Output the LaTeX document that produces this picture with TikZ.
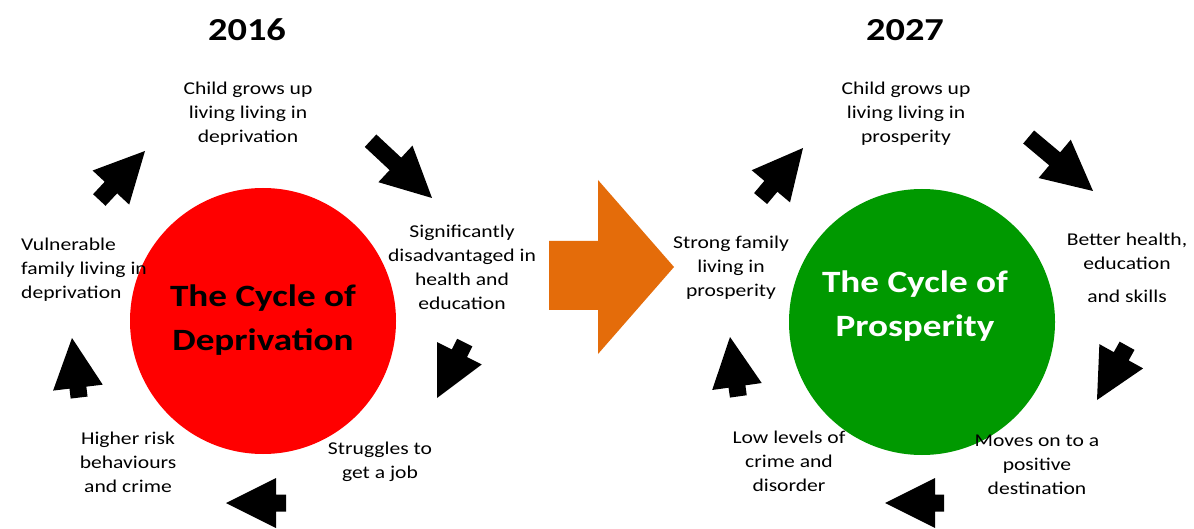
\documentclass[tikz,border=0pt]{standalone}
\usepackage{fontspec}
\setmainfont{Carlito}[FakeStretch=1.2]
\definecolor{cyred}{RGB}{255,0,0}
\definecolor{cygreen}{RGB}{0,153,0}
\definecolor{cyorange}{RGB}{228,108,10}
\newcommand\blockarr[4]{%
  \fill[black, shift={(#1,#2)}, rotate=#3] (0,0) -- (-50,25) -- (-50,8.5) -- ({-50-#4},8.5) -- ({-50-#4},-8.5) -- (-50,-8.5) -- (-50,-25) -- cycle;}
\begin{document}
\begin{tikzpicture}[x=1pt,y=-1pt,
  lab/.style={align=center, inner sep=0pt, font=\fontsize{18}{24}\selectfont},
  ttl/.style={inner sep=0pt, font=\bfseries\fontsize{32}{38}\selectfont},
  ctext/.style={align=center, inner sep=0pt, font=\bfseries\fontsize{31}{44}\selectfont}]
\useasboundingbox[fill=white] (0,0) rectangle (1194,529);
% circles
\fill[cyred] (263,321) circle (133);
\fill[cygreen] (922,322) circle (133);
% titles
\node[ttl] (t1) at (247,30) {2016};
\node[ttl] (t2) at (905,30) {2027};
% circle texts
\node[ctext, text=black] (c1) at (263,320) {The Cycle of\\Deprivation};
\node[ctext, text=white] (c2) at (915,306) {The Cycle of\\Prosperity};
% orange arrow
\fill[cyorange] (549,241) -- (598,241) -- (598,180) -- (674,267) -- (598,354) -- (598,310) -- (549,310) -- cycle;
% left labels
\node[lab] (l1) at (248,114) {Child grows up\\living living in\\deprivation};
\node[lab] (l2) at (462,267) {Significantly\\disadvantaged in\\health and\\education};
\node[lab] (l3) at (380,462) {Struggles to\\get a job};
\node[lab] (l4) at (128,462) {Higher risk\\behaviours\\and crime};
\node[lab, align=left, anchor=west] (l5) at (21,270) {Vulnerable\\family living in\\deprivation};
% right labels
\node[lab] (r1) at (906,114) {Child grows up\\living living in\\prosperity};
\node[lab] (r2) at (1127,268) {Better health,\\education\\[9pt]and skills};
\node[lab] (r3) at (1037,465) {Moves on to a\\positive\\destination};
\node[lab] (r4) at (789,461) {Low levels of\\crime and\\disorder};
\node[lab] (r5) at (731,268) {Strong family\\living in\\prosperity};
% black block arrows
\blockarr{145}{151}{47}{17}
\blockarr{432}{198}{-43}{34}
\blockarr{437}{398}{-116.6}{12}
\blockarr{226}{503}{180}{10}
\blockarr{72}{338}{96.8}{10}
\blockarr{803}{148}{50}{16}
\blockarr{1093}{191}{-40}{34}
\blockarr{1097}{400}{-119}{12}
\blockarr{885}{503}{180}{9}
\blockarr{730}{337}{98}{10}
\end{tikzpicture}
\end{document}
